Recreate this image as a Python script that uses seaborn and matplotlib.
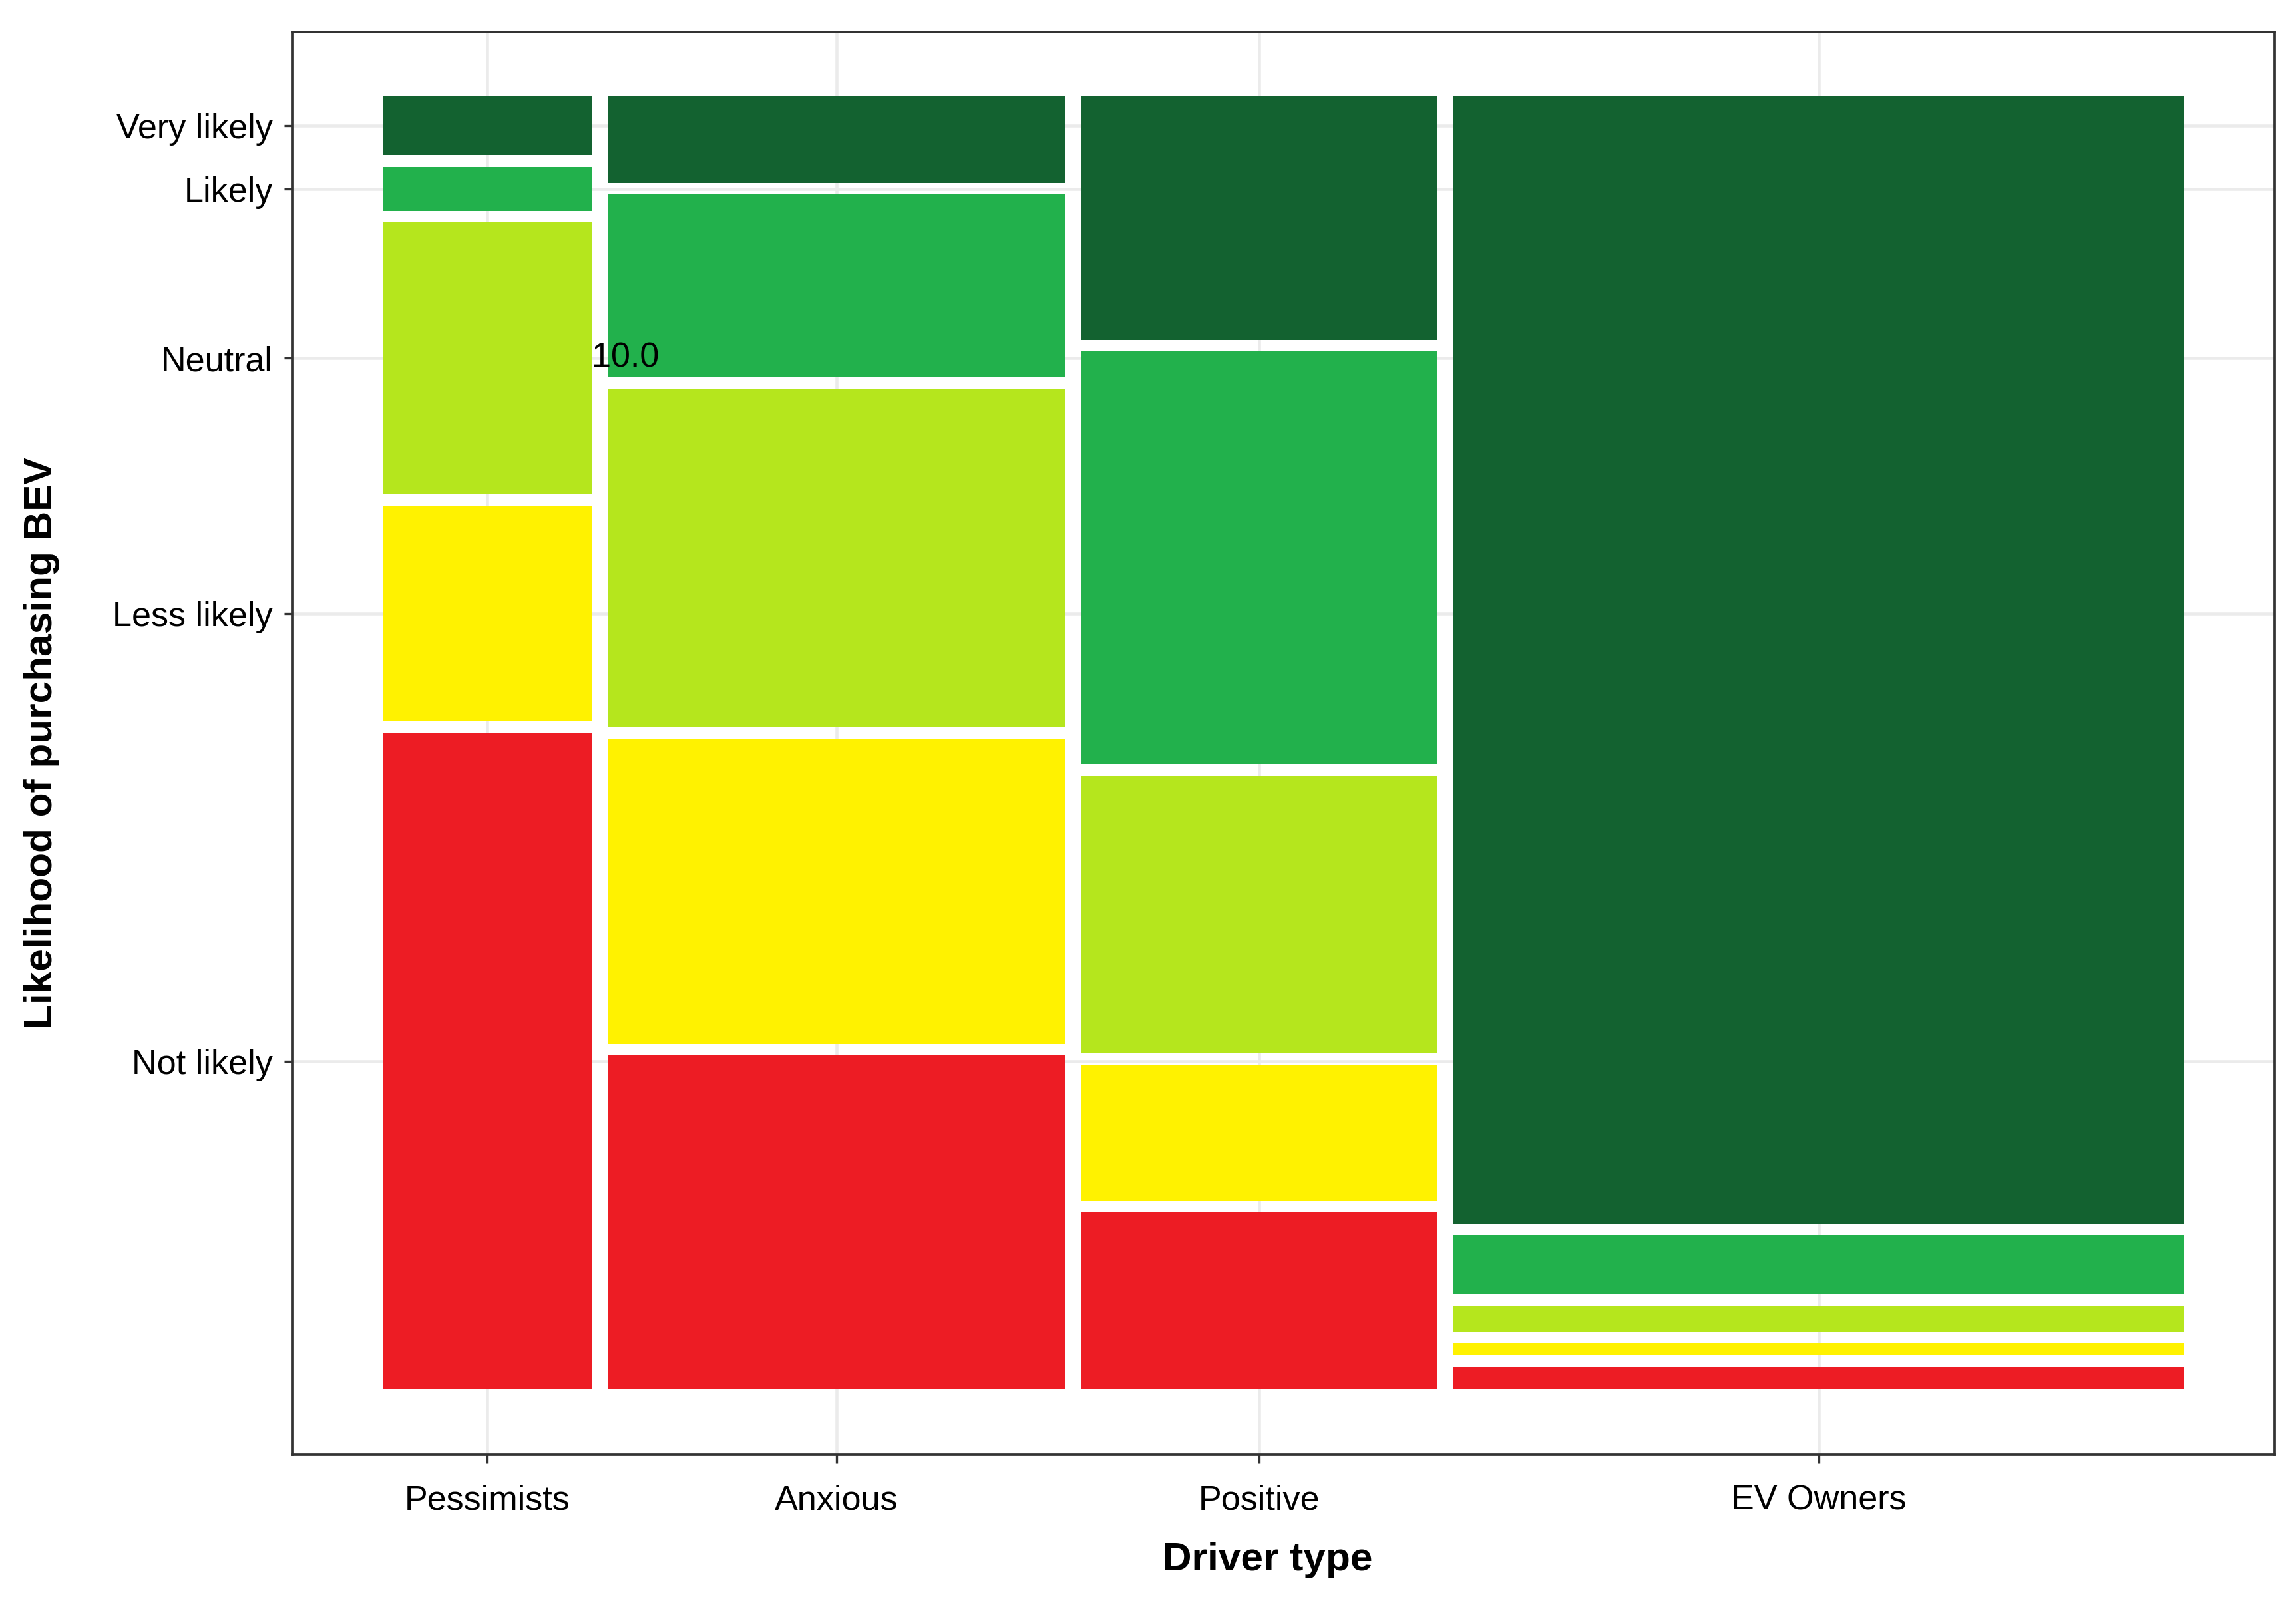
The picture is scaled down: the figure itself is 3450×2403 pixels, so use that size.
import numpy as np
import pandas as pd
import matplotlib
matplotlib.use("Agg")
import matplotlib.pyplot as plt
import seaborn as sns

driver_types = ["Pessimists", "Anxious", "Positive", "EV Owners"]
group_share = [11.9, 26.1, 20.3, 41.7]          # % of respondents -> column width
likelihood = ["Not likely", "Less likely", "Neutral", "Likely", "Very likely"]  # bottom -> top

# % within each driver type, same order as likelihood
pessimists = [52.7, 17.3, 21.8, 3.5, 4.7]
anxious = [26.8, 24.5, 27.1, 14.7, 6.9]
positive = [14.2, 10.9, 22.3, 33.1, 19.5]
ev_owners = [1.8, 1.0, 2.1, 4.7, 90.4]

level_colors = ["#ED1C24", "#FFF200", "#B5E61D", "#22B14C", "#136230"]

# === Build the mosaic tiles ===
gap = 0.009
shares = [pessimists, anxious, positive, ev_owners]
col_w = np.array(group_share) / sum(group_share) * (1 - gap * (len(driver_types) - 1))
col_left = np.concatenate([[0], np.cumsum(col_w[:-1] + gap)])

rows = []
for d, left, w, s in zip(driver_types, col_left, col_w, shares):
    h = np.array(s) / sum(s) * (1 - gap * (len(likelihood) - 1))
    bottoms = np.concatenate([[0], np.cumsum(h[:-1] + gap)])
    for lvl, b, hh in zip(likelihood, bottoms, h):
        rows.append({"driver": d, "level": lvl, "left": left, "width": w,
                     "bottom": b, "height": hh})
tiles = pd.DataFrame(rows)
palette = dict(zip(likelihood, sns.color_palette(level_colors)))
tiles["color"] = tiles["level"].map(palette)

# === Plot ===
sns.set_theme(style="white")
plt.rcParams["font.family"] = ["Liberation Sans", "DejaVu Sans"]

fig = plt.figure(figsize=(11.503, 8.01), dpi=300)
ax = fig.add_axes([0.1275, 0.0905, 0.8629, 0.8894])

ax.bar(tiles["left"], tiles["height"], width=tiles["width"], bottom=tiles["bottom"],
       align="edge", color=tiles["color"], linewidth=0, zorder=2)

# ticks like ggmosaic: column centres and first-column tile centres
xticks = col_left + col_w / 2
first = tiles[tiles["driver"] == driver_types[0]]
yticks = (first["bottom"] + first["height"] / 2).values

ax.set_xlim(-0.05, 1.05)
ax.set_ylim(-0.05, 1.05)
ax.set_xticks(xticks)
ax.set_xticklabels(driver_types)
ax.set_yticks(yticks)
ax.set_yticklabels(likelihood)

for xv in xticks:
    ax.axvline(xv, color="#EBEBEB", lw=1.1, zorder=1)
for yv in yticks:
    ax.axhline(yv, color="#EBEBEB", lw=1.1, zorder=1)

for sp in ax.spines.values():
    sp.set_visible(True)
    sp.set_color("#333333")
    sp.set_linewidth(0.9)

ax.tick_params(axis="both", which="major", length=3.2, width=0.8, color="#333333",
               labelsize=12.5, labelcolor="black", direction="out")
ax.tick_params(axis="x", pad=7.5)
ax.tick_params(axis="y", pad=4)
ax.tick_params(left=True, bottom=True)

ax.set_xlabel("Driver type", fontsize=14.5, fontweight="bold", labelpad=9,
              color="black", x=0.492)
ax.set_ylabel("Likelihood of purchasing BEV", fontsize=14.5, fontweight="bold",
              labelpad=19, color="black")

# stray label in the original
ax.text(col_left[0] + col_w[0], yticks[likelihood.index("Neutral")], "10.0",
        ha="left", va="center", fontsize=12.5, color="black", zorder=3)

plt.savefig("out.png", dpi=300)
